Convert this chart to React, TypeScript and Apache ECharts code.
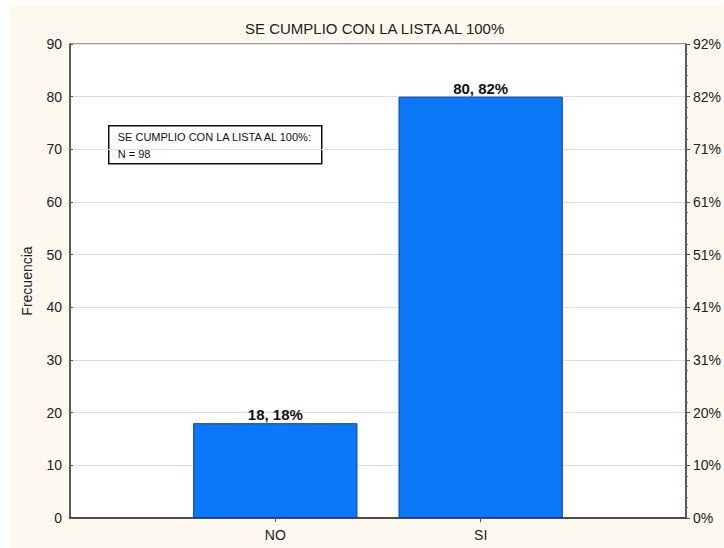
import React, { useEffect, useRef } from "react";
import * as echarts from "echarts";

// Frequency table: "SE CUMPLIO CON LA LISTA AL 100%"
const categories = ["NO", "SI"];
const frequencies = [18, 80];
const totalN = 98;
const leftTicks = [0, 10, 20, 30, 40, 50, 60, 70, 80, 90];
const rightTickLabels = ["0%", "10%", "20%", "31%", "41%", "51%", "61%", "71%", "82%", "92%"];

const TITLE = "SE CUMPLIO CON LA LISTA AL 100%";

export default function App() {
  const ref = useRef<HTMLDivElement>(null);

  useEffect(() => {
    if (!ref.current) return;
    const chart = echarts.init(ref.current, undefined, { renderer: "svg" });

    // padded category axis: one empty slot on each side so bars sit at 1/3 and 2/3
    const axisData = ["", ...categories, ""];
    const seriesData = [null, ...frequencies, null];
    const font = "Liberation Sans, Arial, sans-serif";

    chart.setOption({
      animation: false,
      backgroundColor: "#fdf9ef",
      textStyle: { fontFamily: font },
      title: {
        text: TITLE,
        left: 230,
        top: 11,
        textStyle: { fontSize: 15, fontWeight: "normal", color: "#222", fontFamily: font },
      },
      grid: {
        left: 60,
        right: 30,
        top: 39,
        bottom: 30,
        show: true,
        backgroundColor: "#ffffff",
        borderColor: "#444",
        borderWidth: 1,
      },
      xAxis: [
        {
          type: "category",
          data: axisData,
          boundaryGap: false,
          axisLine: { lineStyle: { color: "#444", width: 1.5 } },
          axisTick: {
            inside: true,
            length: 4,
            lineStyle: { color: "#555" },
            interval: (_i: number, v: string) => v !== "",
          },
          axisLabel: { fontSize: 14, color: "#222", margin: 10, fontFamily: font },
          splitLine: { show: false },
        },
        {
          type: "category",
          position: "top",
          data: axisData,
          boundaryGap: false,
          axisLine: { lineStyle: { color: "#444", width: 1.5 } },
          axisTick: {
            inside: true,
            length: 4,
            lineStyle: { color: "#555" },
            interval: (_i: number, v: string) => v !== "",
          },
          axisLabel: { show: false },
          splitLine: { show: false },
        },
      ],
      yAxis: [
        {
          type: "value",
          min: leftTicks[0],
          max: leftTicks[leftTicks.length - 1],
          interval: 10,
          name: "Frecuencia",
          nameLocation: "middle",
          nameGap: 36,
          nameTextStyle: { fontSize: 14, color: "#222", fontFamily: font },
          axisLine: { show: true, lineStyle: { color: "#444", width: 1.5 } },
          axisTick: { show: true, inside: true, length: 3, lineStyle: { color: "#555" } },
          axisLabel: { fontSize: 14, color: "#222", margin: 8, fontFamily: font },
          splitLine: { show: true, lineStyle: { color: "#dedede", width: 1 } },
        },
        {
          type: "value",
          position: "right",
          min: leftTicks[0],
          max: leftTicks[leftTicks.length - 1],
          interval: 10,
          axisLine: { show: true, lineStyle: { color: "#444", width: 1.5 } },
          axisTick: { show: true, inside: false, length: 4, lineStyle: { color: "#555" } },
          minorTick: { show: true, splitNumber: 5, length: 2, lineStyle: { color: "#777" } },
          axisLabel: {
            fontSize: 14,
            color: "#222",
            margin: 7,
            fontFamily: font,
            formatter: (v: number) => rightTickLabels[leftTicks.indexOf(v)] ?? "",
          },
          splitLine: { show: false },
        },
      ],
      series: [
        {
          type: "bar",
          xAxisIndex: 0,
          yAxisIndex: 0,
          data: seriesData,
          barWidth: "80%",
          itemStyle: { color: "#0a78f8", borderColor: "#123f96", borderWidth: 1 },
          label: {
            show: true,
            position: "top",
            distance: 1,
            fontSize: 15,
            fontWeight: "bold",
            color: "#111",
            fontFamily: font,
            formatter: (p: any) => `${p.value}, ${Math.round((p.value / totalN) * 100)}%`,
          },
        },
      ],
      graphic: [
        {
          type: "group",
          left: 98,
          top: 120,
          children: [
            {
              type: "rect",
              shape: { x: 0, y: 0, width: 213, height: 38 },
              style: { fill: "#ffffff", stroke: "#111", lineWidth: 1.5 },
            },
            {
              type: "text",
              x: 9,
              y: 11,
              style: {
                text: `${TITLE}:`,
                fontSize: 11,
                fontFamily: font,
                fill: "#111",
                verticalAlign: "middle",
              },
            },
            {
              type: "text",
              x: 9,
              y: 28,
              style: {
                text: `N = ${totalN}`,
                fontSize: 11,
                fontFamily: font,
                fill: "#111",
                verticalAlign: "middle",
              },
            },
          ],
        },
      ],
    });

    return () => chart.dispose();
  }, []);

  return (
    <div
      style={{
        position: "fixed",
        left: 0,
        top: 0,
        width: 724,
        height: 548,
        background: "#ffffff",
      }}
    >
      <div
        ref={ref}
        style={{ position: "absolute", left: 10, top: 5, width: 714, height: 543 }}
      />
    </div>
  );
}
